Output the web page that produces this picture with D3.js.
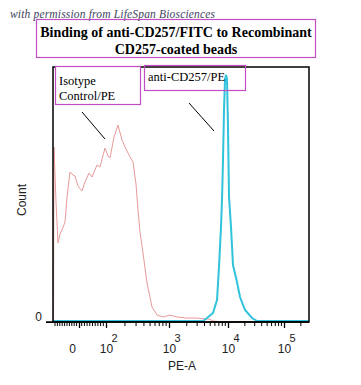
<!DOCTYPE html>
<html>
<head>
<meta charset="utf-8">
<script src="https://cdn.jsdelivr.net/npm/d3@7"></script>
<style>
  body { margin: 0; background: #fff; }
  svg { display: block; }
</style>
</head>
<body>
<svg id="chart" width="361" height="385"></svg>
<script>
// histogram bins: FlowJo 256-channel display, counts
const isotypeBins = [
  [0.5, 0], [1, 175], [3, 120], [5, 79], [7, 88], [9, 92], [12, 100], [14, 125],
  [17, 150], [20, 147], [22, 146], [25, 136], [29, 131], [32, 140], [36, 149],
  [39, 145], [44, 157], [47, 155], [52, 174], [55, 166], [57, 164], [61, 185],
  [65, 197], [69, 182], [72, 175], [77, 165], [80, 160], [83, 138], [85, 112],
  [87, 90], [90, 69], [94, 39], [99, 15], [104, 7], [110, 5], [117, 7], [124, 5],
  [133, 4], [144, 4], [152, 3], [156, 3], [160, 1], [170, 0], [256, 0]
];
const cd257Bins = [
  [0, 1], [150, 1], [154, 4], [160, 9], [164, 22], [166, 55], [168, 95], [169, 122],
  [170, 162], [171, 212], [172, 242], [173, 247], [174, 243], [175, 195], [176, 125],
  [178, 95], [180, 57], [184, 40], [187, 25], [192, 12], [199, 4], [204, 1], [256, 1]
];

// biexponential axis: where the decades sit, in channels
const linearAnchors = [-100, 0, 100];
const linearChannels = [2, 26, 53];
const decadeAnchors = [100, 1e3, 1e4, 1e5];
const decadeChannels = [53, 116, 175, 231];
const majorTicks = [0, 100, 1e3, 1e4, 1e5];
const tickExponents = ['', '2', '3', '4', '5'];

const titleLines = ['Binding of anti-CD257/FITC to Recombinant', 'CD257-coated beads'];

const svg = d3.select('#chart');
const frame = { left: 53, right: 309, top: 67, bottom: 322 };
const serif = "'Liberation Serif', 'Times New Roman', serif";
const sans = "'Liberation Sans', Arial, sans-serif";

const x = d3.scaleLinear().domain([0, 256]).range([frame.left, frame.right]);
const y = d3.scaleLinear().domain([0, 255]).range([frame.bottom, frame.top]);

const nearZero = d3.scaleLinear().domain(linearAnchors).range(linearChannels);
const decades = d3.scaleLog().domain(decadeAnchors).range(decadeChannels);
const channelOf = v => (v <= 100 ? nearZero(v) : decades(v));

// minor tick values
const minorTicks = [];
for (let k = 1; k <= 10; k++) { minorTicks.push(-10 * k); if (k < 10) minorTicks.push(10 * k); }
[100, 1e3, 1e4].forEach(d => { for (let m = 2; m <= 9; m++) minorTicks.push(d * m); });
minorTicks.push(2e5);

// watermark
svg.append('text')
  .attr('x', 10).attr('y', 18)
  .attr('font-family', serif)
  .attr('font-style', 'italic')
  .attr('font-size', 11.5)
  .attr('fill', '#3c4460')
  .attr('textLength', 205)
  .text('with permission from LifeSpan Biosciences');

// title box
svg.append('rect')
  .attr('x', 36.5).attr('y', 19.5).attr('width', 279).attr('height', 38)
  .attr('fill', 'none').attr('stroke', '#c24fc2').attr('stroke-width', 1.2);

svg.selectAll('.title')
  .data(titleLines)
  .join('text')
  .attr('class', 'title')
  .attr('x', 176)
  .attr('y', (d, i) => 37 + i * 16.5)
  .attr('text-anchor', 'middle')
  .attr('font-family', serif)
  .attr('font-weight', 'bold')
  .attr('font-size', 14)
  .attr('fill', '#000')
  .text(d => d);

// curves
const line = d3.line().x(d => x(d[0])).y(d => y(d[1]));

svg.append('path')
  .datum(isotypeBins)
  .attr('d', line)
  .attr('fill', 'none')
  .attr('stroke', '#e79a9a')
  .attr('stroke-width', 1);

svg.append('path')
  .datum(cd257Bins)
  .attr('d', line)
  .attr('fill', 'none')
  .attr('stroke', '#2fc3dc')
  .attr('stroke-width', 2);

// frame
svg.append('rect')
  .attr('x', frame.left).attr('y', frame.top)
  .attr('width', frame.right - frame.left).attr('height', frame.bottom - frame.top)
  .attr('fill', 'none').attr('stroke', '#000').attr('stroke-width', 1.5);

// x axis
const xAxis = svg.append('g')
  .attr('transform', `translate(0,${frame.bottom})`)
  .call(d3.axisBottom(x)
    .tickValues(majorTicks.map(channelOf))
    .tickSize(6)
    .tickFormat(''));
xAxis.select('.domain').remove();
xAxis.selectAll('.tick line').attr('stroke-width', 1.3);

xAxis.append('g')
  .selectAll('line')
  .data(minorTicks)
  .join('line')
  .attr('x1', d => x(channelOf(d)))
  .attr('x2', d => x(channelOf(d)))
  .attr('y1', 0).attr('y2', 4)
  .attr('stroke', '#000');

xAxis.append('line')
  .attr('x1', 46).attr('x2', frame.right)
  .attr('stroke', '#000').attr('stroke-width', 1.5);

xAxis.selectAll('.tick').each(function (d, i) {
  const t = d3.select(this).append('text')
    .attr('y', 31)
    .attr('fill', '#222')
    .attr('font-family', sans)
    .attr('font-size', 12)
    .attr('text-anchor', 'middle');
  if (i === 0) {
    t.attr('x', -7).text('0');
  } else {
    t.attr('x', 0).text('10');
    d3.select(this).append('text')
      .attr('x', 8).attr('y', 20)
      .attr('fill', '#222')
      .attr('font-family', sans)
      .attr('font-size', 11)
      .text(tickExponents[i]);
  }
});

// y axis
const yAxis = svg.append('g')
  .attr('transform', `translate(${frame.left},0)`)
  .call(d3.axisLeft(y).tickValues([0]).tickSize(7).tickPadding(4));
yAxis.select('.domain').remove();
yAxis.selectAll('text')
  .attr('font-family', sans)
  .attr('font-size', 12)
  .attr('fill', '#222')
  .attr('dy', '-0.1em');

svg.append('text')
  .attr('transform', 'translate(26,200) rotate(-90)')
  .attr('text-anchor', 'middle')
  .attr('font-family', sans)
  .attr('font-size', 12)
  .attr('fill', '#222')
  .text('Count');

svg.append('text')
  .attr('x', 182).attr('y', 370)
  .attr('text-anchor', 'middle')
  .attr('font-family', sans)
  .attr('font-size', 12)
  .attr('fill', '#222')
  .text('PE-A');

// annotation boxes
svg.append('rect')
  .attr('x', 55.5).attr('y', 66.5).attr('width', 85).attr('height', 38)
  .attr('fill', '#fff').attr('stroke', '#c24fc2').attr('stroke-width', 1.2);
svg.append('text')
  .attr('x', 59).attr('y', 85)
  .attr('font-family', serif).attr('font-size', 12.5)
  .text('Isotype');
svg.append('text')
  .attr('x', 59).attr('y', 100)
  .attr('font-family', serif).attr('font-size', 12.5)
  .text('Control/PE');

svg.append('rect')
  .attr('x', 144.5).attr('y', 65.5).attr('width', 101).attr('height', 25)
  .attr('fill', 'none').attr('stroke', '#c24fc2').attr('stroke-width', 1.2);
svg.append('text')
  .attr('x', 148).attr('y', 81)
  .attr('font-family', serif).attr('font-size', 12.5)
  .text('anti-CD257/PE');

// pointers
svg.append('line')
  .attr('x1', 82).attr('y1', 112).attr('x2', 105).attr('y2', 139)
  .attr('stroke', '#000').attr('stroke-width', 1);
svg.append('line')
  .attr('x1', 189).attr('y1', 103).attr('x2', 214).attr('y2', 131)
  .attr('stroke', '#000').attr('stroke-width', 1);
</script>
</body>
</html>
